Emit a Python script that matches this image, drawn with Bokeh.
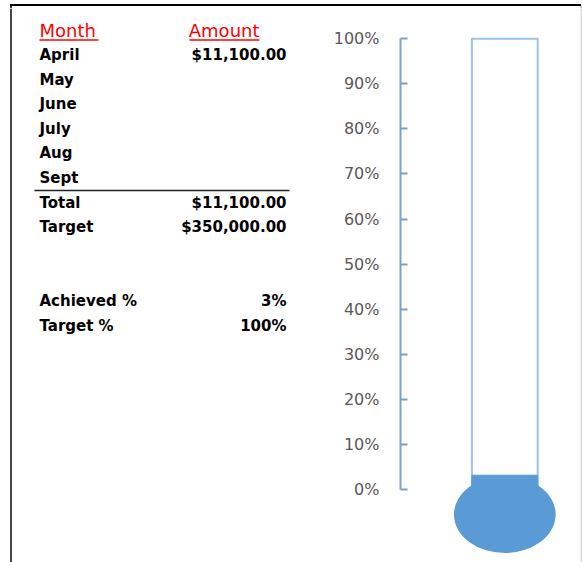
from bokeh.plotting import figure
from bokeh.layouts import row, column
from bokeh.models import Range1d, NumeralTickFormatter, FixedTicker, BoxAnnotation, Div
from bokeh.core.properties import value
from bokeh.embed import file_html
from bokeh.resources import INLINE

# ---------------- data ----------------
months = ["April", "May", "June", "July", "Aug", "Sept"]
amounts = [11100.00, None, None, None, None, None]
target = 350000.00
target_pct = 1.00
total = sum(a for a in amounts if a is not None)
achieved_pct = total / target
pct_ticks = [0.0, 0.1, 0.2, 0.3, 0.4, 0.5, 0.6, 0.7, 0.8, 0.9, 1.0]
headers = ["Month", "Amount"]


def money(v):
    return "" if v is None else f"${v:,.2f}"


# ---------------- layout constants ----------------
W_TOTAL = 582
H_TOP = 8
H = 554
W_LEFT = 300
W_RIGHT = W_TOTAL - W_LEFT
FONT = value("DejaVu Sans")

# table rows (row index on a 24.6px grid)
labels = months + ["Total", "Target", "Achieved %", "Target %"]
vals = [money(a) for a in amounts] + [money(total), money(target),
                                      f"{achieved_pct:.0%}", f"{target_pct:.0%}"]
row_idx = [0, 1, 2, 3, 4, 5, 6, 7, 10, 11]
ys = [54.5 + 24.6 * i for i in row_idx]

# ---------------- top strip (sheet border, drawn with CSS) ----------------
strip = Div(text="", width=W_TOTAL, height=H_TOP, margin=0,
            styles={
                "background":
                    "linear-gradient(#000,#000) 10px 4px / 571px 2px no-repeat, "
                    "linear-gradient(#333,#333) 10px 4px / 2px 4px no-repeat, "
                    "linear-gradient(#d4d4d4,#d4d4d4) 580px 5px / 2px 3px no-repeat, "
                    "#ffffff",
            })

# ---------------- left: table ----------------
t = figure(width=W_LEFT, height=H, x_range=Range1d(0, W_LEFT),
           y_range=Range1d(H_TOP + H, H_TOP), x_axis_type=None, y_axis_type=None,
           output_backend="svg", toolbar_location=None, min_border=0)
t.grid.visible = False
t.outline_line_color = None

t.text(x=[39] * len(labels), y=ys, text=labels, text_font=FONT,
       text_font_style="bold", text_font_size="15px",
       text_baseline="middle", text_align="left", text_color="#000000")
t.text(x=[286] * len(vals), y=ys, text=vals, text_font=FONT,
       text_font_style="bold", text_font_size="15px",
       text_baseline="middle", text_align="right", text_color="#000000")

hy = 54.5 - 24.6
t.text(x=[39], y=[hy], text=[headers[0]], text_font=FONT,
       text_font_size="18px", text_baseline="middle", text_align="left",
       text_color="#ff0000")
t.text(x=[259], y=[hy], text=[headers[1]], text_font=FONT,
       text_font_size="18px", text_baseline="middle", text_align="right",
       text_color="#ff0000")
t.segment(x0=[39, 189], y0=[39.5, 39.5], x1=[98, 259], y1=[39.5, 39.5],
          line_color="#ff0000", line_width=1.5)

# separator under Sept
t.segment(x0=[34], y0=[190], x1=[289], y1=[190], line_color="#222222", line_width=1.3)
# sheet border (left)
t.segment(x0=[10.5], y0=[H_TOP], x1=[10.5], y1=[H_TOP + H], line_color="#333333", line_width=1.8)

# ---------------- right: thermometer ----------------
p = figure(width=W_RIGHT, height=H, x_range=Range1d(-1.585, 1.181),
           y_range=Range1d(-0.162, 1.0672), x_axis_type=None,
           output_backend="svg", toolbar_location=None,
           min_border_left=100, min_border_right=0, min_border_top=0,
           min_border_bottom=0)
p.grid.visible = False
p.outline_line_color = None

ax = p.yaxis[0]
ax.ticker = FixedTicker(ticks=pct_ticks)
ax.formatter = NumeralTickFormatter(format="0%")
ax.bounds = (0, 1)
ax.axis_line_color = "#7aa2cc"
ax.axis_line_width = 2
ax.major_tick_line_color = "#7aa2cc"
ax.major_tick_line_width = 2
ax.major_tick_in = 7
ax.major_tick_out = 0
ax.minor_tick_in = 0
ax.minor_tick_out = 0
ax.major_label_text_font = "DejaVu Sans"
ax.major_label_text_font_size = "16px"
ax.major_label_text_color = "#595959"
ax.major_label_standoff = 21

p.vbar(x=[0], bottom=[0], top=[target_pct], width=1, fill_color="white",
       line_color="#9dc3e6", line_width=2)
p.vbar(x=[0], bottom=[0], top=[achieved_pct], width=1, fill_color="#5b9bd5",
       line_color="#5b9bd5", line_width=1)
p.ellipse(x=[0], y=[-0.0555], width=1.546, height=0.171,
          fill_color="#5b9bd5", line_color=None)

# sheet border (right, light gray) -- screen units relative to the frame
p.add_layout(BoxAnnotation(left=180.2, right=181.7,
                           left_units="screen", right_units="screen",
                           fill_color="#d4d4d4", fill_alpha=1.0, line_color=None))

layout = column(strip, row(t, p))
open("out.html", "w").write(file_html(layout, INLINE))
